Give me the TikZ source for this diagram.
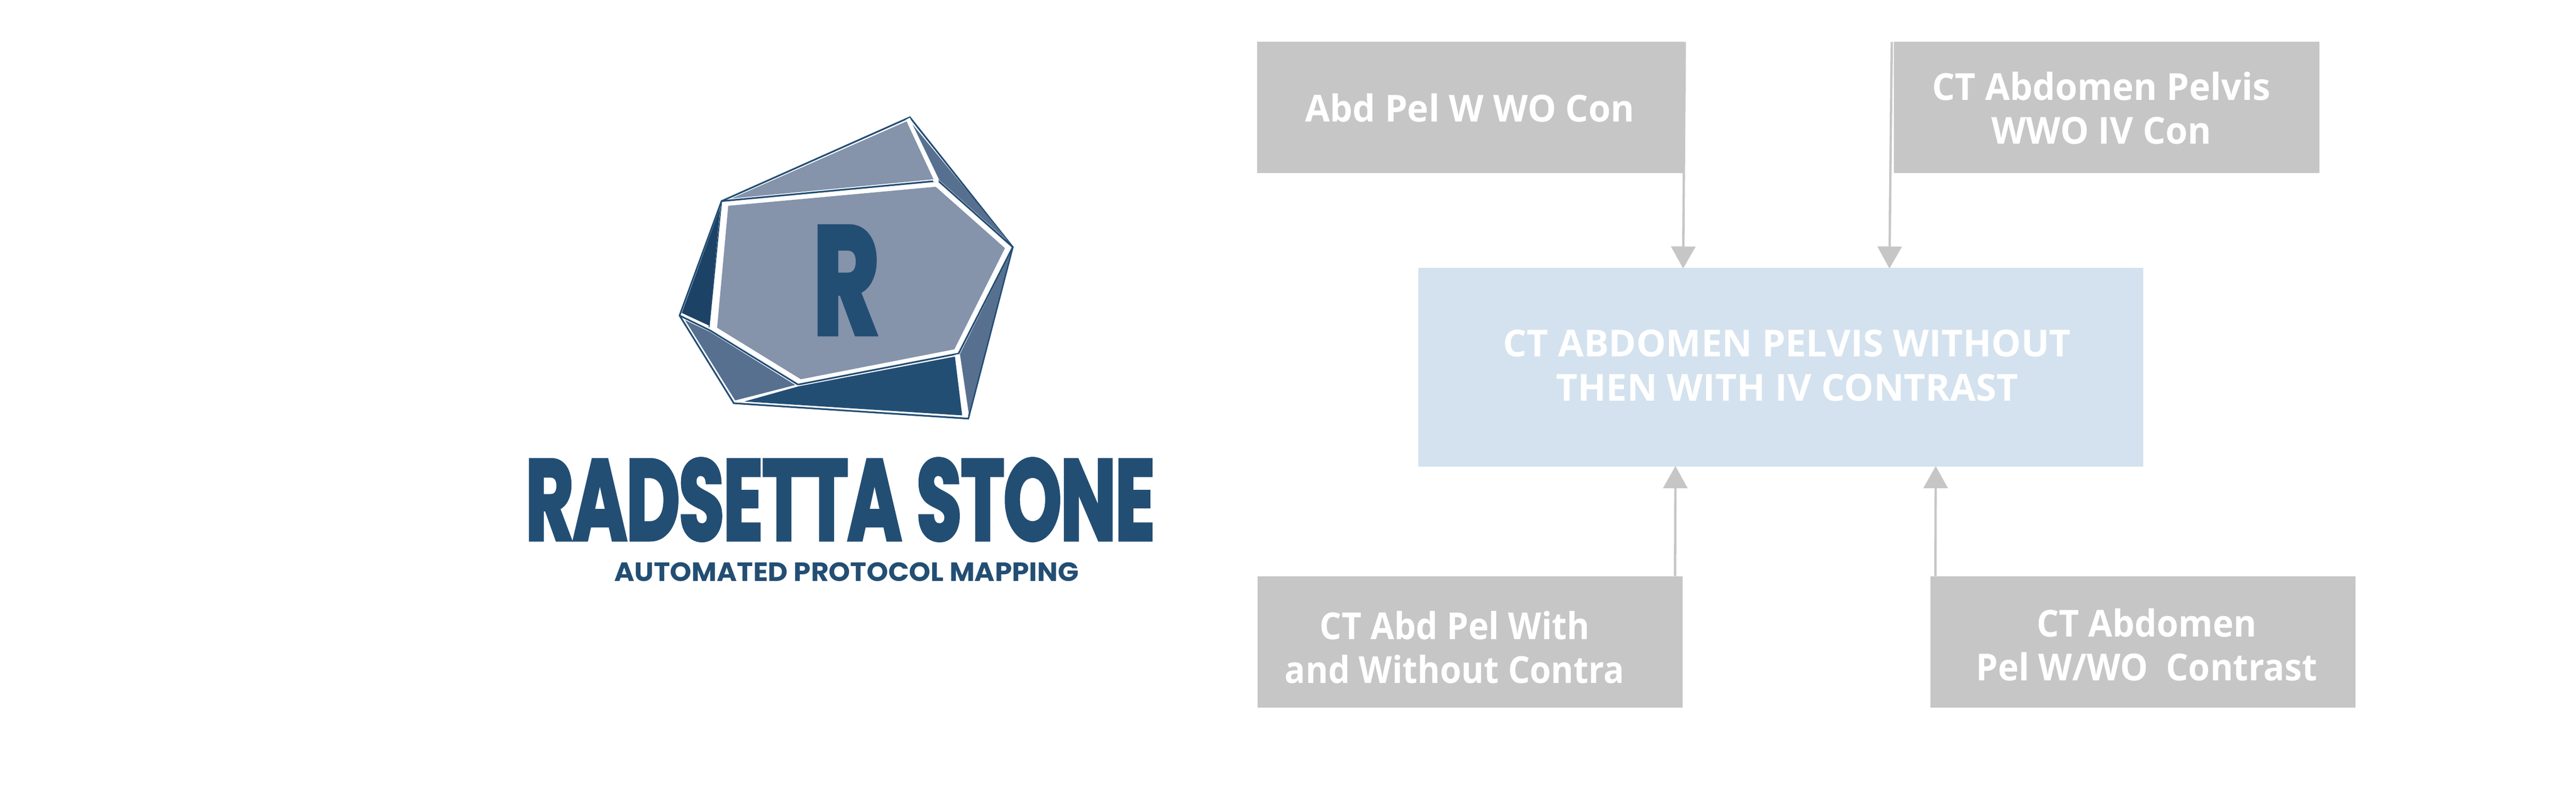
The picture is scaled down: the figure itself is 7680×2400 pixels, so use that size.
\documentclass[tikz,border=0pt]{standalone}
\usepackage{fontspec}
\usepackage{graphicx}
\usetikzlibrary{arrows.meta}
\setmainfont{Open Sans}
\newfontfamily\lblfont{Open Sans}
\newfontfamily\titlefont{Poppins}[BoldFeatures={FakeBold=3},LetterSpace=-1.5]
\newfontfamily\subfont{Poppins}
\definecolor{navy}{HTML}{234E74}
\definecolor{deep}{HTML}{1C4266}
\definecolor{mid}{HTML}{57708F}
\definecolor{pale}{HTML}{8593AB}
\definecolor{boxgrey}{HTML}{C6C6C6}
\definecolor{boxblue}{HTML}{D3E2EE}
\tikzset{
  x=1pt,y=-1pt,
  box/.style={rectangle,inner sep=0pt,outer sep=0pt,fill=boxgrey,draw=none},
  mainbox/.style={box,fill=boxblue},
  lbl/.style={inner sep=0pt,outer sep=0pt,text=white,align=center,font=\fontsize{111}{131}\selectfont\lblfont\bfseries},
  link/.style={draw=boxgrey,line width=7pt,-{Triangle[length=66pt,width=72pt,fill=boxgrey]}},
  rim/.style={draw=navy,line width=5pt,line join=miter},
  logoscale/.style={shift={(1900,300)},xscale=.8292,yscale=.6378}
}
\begin{document}
\begin{tikzpicture}
\useasboundingbox (0,0) rectangle (7680,2400);
% logo
\begin{scope}[logoscale]
  \draw[rim,fill=white] (980,78)--(1350,685)--(1190,1487)--(347,1415)--(152,1005)--(303,470)--cycle;
  \draw[rim] (303,470)--(1082,375)--(1350,685)--(1155,1183)--(578,1328)--(262,1075)--(152,1005);
  \fill[white] (980,80)--(1085,380)--(1065,380)--(965,90)--cycle;
  \fill[white] (347,1410)--(578,1330)--(590,1332)--(370,1410)--cycle;
  \fill[white] (1155,1185)--(1190,1480)--(1172,1478)--(1140,1190)--cycle;
  \draw[navy,line width=3pt] (303,470)--(258,1060);
  \fill[pale] (968,97)--(1065,368)--(338,458)--cycle;
  \fill[mid] (990,112)--(1086,372)--(1338,664)--cycle;
  \fill[pale] (327,492)--(1073,403)--(1322,690)--(1140,1163)--(588,1303)--(287,1062)--cycle;
  \fill[deep] (298,500)--(160,993)--(258,1052)--cycle;
  \fill[mid] (172,1027)--(262,1082)--(568,1330)--(352,1402)--cycle;
  \fill[navy] (1142,1197)--(1168,1472)--(385,1407)--(580,1336)--cycle;
  \fill[mid] (1160,1185)--(1342,712)--(1192,1465)--cycle;
\end{scope}
\node[inner sep=0pt,text=navy] (logoR) at (2523,836) {\resizebox{200pt}{320pt}{\titlefont\bfseries R}};
\node[inner sep=0pt,text=navy] (title) at (2505,1490) {\resizebox{1875pt}{242pt}{\titlefont\bfseries RADSETTA STONE}};
\node[inner sep=0pt,text=navy] (subtitle) at (2524,1706) {\resizebox{1384pt}{56pt}{\subfont\bfseries AUTOMATED PROTOCOL MAPPING}};
% boxes
\node[box,minimum width=1272pt,minimum height=391pt] (b1) at (4384,320.5) {};
\node[box,minimum width=1268pt,minimum height=391pt] (b2) at (6281,320.5) {};
\node[mainbox,minimum width=2162pt,minimum height=593pt] (c) at (5309,1095.5) {};
\node[box,minimum width=1266pt,minimum height=392pt] (b3) at (4383,1914) {};
\node[box,minimum width=1267pt,minimum height=392pt] (b4) at (6389.5,1914) {};
% labels
\node[lbl,xscale=.966,transform shape] (t1) at (4382,321) {Abd Pel W WO Con};
\node[lbl,xscale=.963,transform shape] (t2) at (6265,322) {CT Abdomen Pelvis\\WWO IV Con};
\node[lbl] (tc) at (5328,1090) {CT ABDOMEN PELVIS WITHOUT\\THEN WITH IV CONTRAST};
\node[lbl,xscale=.924,transform shape] (t3) at (4337,1931) {CT Abd Pel With\\and Without Contra};
\node[lbl,xscale=.94,transform shape] (t4) at (6400,1923) {CT Abdomen\\Pel W/WO\ \ Contrast};
% connectors
\draw[link] ([xshift=3pt]b1.north east) -- ([xshift=790pt,yshift=-2pt]c.north west);
\draw[link] ([xshift=-7pt]b2.north west) -- ([xshift=1405pt,yshift=-2pt]c.north west);
\draw[link] ([xshift=-22pt]b3.north east) -- ([xshift=767pt,yshift=2pt]c.south west);
\draw[link] ([xshift=14pt]b4.north west) -- ([xshift=1543pt,yshift=2pt]c.south west);
\end{tikzpicture}
\end{document}
